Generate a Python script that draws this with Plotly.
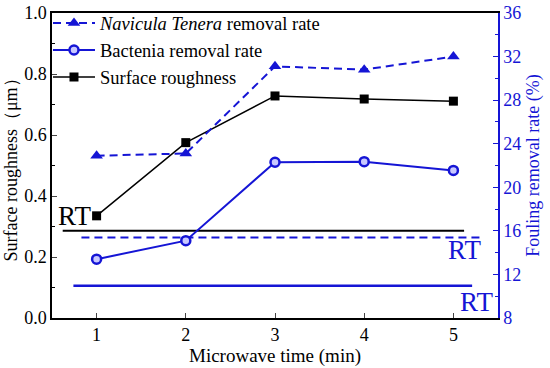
import plotly.graph_objects as go

time_min = [1, 2, 3, 4, 5]
roughness = [0.335, 0.575, 0.728, 0.718, 0.711]
navicula_rate = [22.9, 23.1, 31.1, 30.8, 32.0]
bacteria_rate = [13.4, 15.1, 22.3, 22.35, 21.55]

rt_roughness = 0.286
rt_navicula = 15.4
rt_bacteria = 10.95
rt_rough_x = [0.62, 5.12]
rt_nav_x = [0.83, 5.31]
rt_bac_x = [0.74, 5.21]

BLUE = "#1515d5"
FONT = "Times New Roman, Liberation Serif, serif"

fig = go.Figure()

fig.add_trace(go.Scatter(x=rt_rough_x, y=[rt_roughness]*2, mode="lines",
                         line=dict(color="black", width=2), showlegend=False, hoverinfo="skip"))
fig.add_trace(go.Scatter(x=rt_nav_x, y=[rt_navicula]*2, mode="lines", yaxis="y2",
                         line=dict(color=BLUE, width=2, dash="8px,5px"), showlegend=False, hoverinfo="skip"))
fig.add_trace(go.Scatter(x=rt_bac_x, y=[rt_bacteria]*2, mode="lines", yaxis="y2",
                         line=dict(color=BLUE, width=2.5), showlegend=False, hoverinfo="skip"))

fig.add_trace(go.Scatter(x=time_min, y=navicula_rate, yaxis="y2", mode="lines+markers",
                         name="<i>Navicula Tenera</i> removal rate",
                         line=dict(color=BLUE, width=2, dash="8px,5px"),
                         marker=dict(symbol="triangle-up", size=11, color=BLUE)))
fig.add_trace(go.Scatter(x=time_min, y=bacteria_rate, yaxis="y2", mode="lines+markers",
                         name="Bactenia removal rate",
                         line=dict(color=BLUE, width=2),
                         marker=dict(symbol="circle", size=9, color="#c8c8ff",
                                     line=dict(color=BLUE, width=2.5))))
fig.add_trace(go.Scatter(x=time_min, y=roughness, mode="lines+markers",
                         name="Surface roughness",
                         line=dict(color="black", width=1.5),
                         marker=dict(symbol="square", size=9, color="black")))

fig.add_annotation(x=rt_rough_x[0], y=rt_roughness, xref="x", yref="y", text="RT",
                   showarrow=False, xanchor="left", yanchor="bottom", yshift=-2, xshift=-7,
                   font=dict(family=FONT, size=27, color="black"))
fig.add_annotation(x=rt_nav_x[1], y=rt_navicula, xref="x", yref="y2", text="RT",
                   showarrow=False, xanchor="right", yanchor="top", yshift=4, xshift=2,
                   font=dict(family=FONT, size=27, color=BLUE))
fig.add_annotation(x=1, y=8, xref="paper", yref="y2", text="RT",
                   showarrow=False, xanchor="right", yanchor="bottom", yshift=-1, xshift=-3,
                   font=dict(family=FONT, size=27, color=BLUE))

fig.update_layout(
    template="none",
    width=550, height=368,
    margin=dict(l=52, r=52, t=13, b=50, autoexpand=False),
    paper_bgcolor="white", plot_bgcolor="white",
    font=dict(family=FONT, size=18, color="black"),
    showlegend=True,
    legend=dict(x=-0.009, y=1.028, xanchor="left", yanchor="top", bgcolor="rgba(0,0,0,0)",
                font=dict(family=FONT, size=18.5), tracegroupgap=0,
                itemwidth=42),
    xaxis=dict(range=[0.5, 5.5], tickvals=time_min, ticks="inside", ticklen=5,
               showline=True, linecolor="black", linewidth=1.5, mirror=True,
               showgrid=False, zeroline=False, automargin=False,
               title=dict(text="Microwave time (min)", font=dict(size=19), standoff=2),
               tickfont=dict(size=18)),
    yaxis=dict(range=[0, 1], dtick=0.2, tickformat=".1f", ticks="inside", ticklen=5,
               minor=dict(ticks="inside", ticklen=3, dtick=0.1, tickcolor="black"),
               showline=True, linecolor="black", linewidth=1.5,
               showgrid=False, zeroline=False, automargin=False,
               title=dict(text="Surface roughness（μm）", font=dict(size=18), standoff=2),
               tickfont=dict(size=18)),
    yaxis2=dict(range=[8, 36], dtick=4, overlaying="y", side="right", anchor="x",
                ticks="inside", ticklen=5, tickcolor=BLUE,
                minor=dict(ticks="inside", ticklen=3, dtick=2, tickcolor=BLUE),
                showline=True, linecolor=BLUE, linewidth=1.5,
                showgrid=False, zeroline=False, automargin=False,
                title=dict(text="Fouling removal rate (%)", font=dict(size=18, color=BLUE), standoff=6),
                tickfont=dict(size=18, color=BLUE)),
)

fig.write_html("out.html", config={"displayModeBar": False},
               post_script="document.body.style.margin='0px';")
